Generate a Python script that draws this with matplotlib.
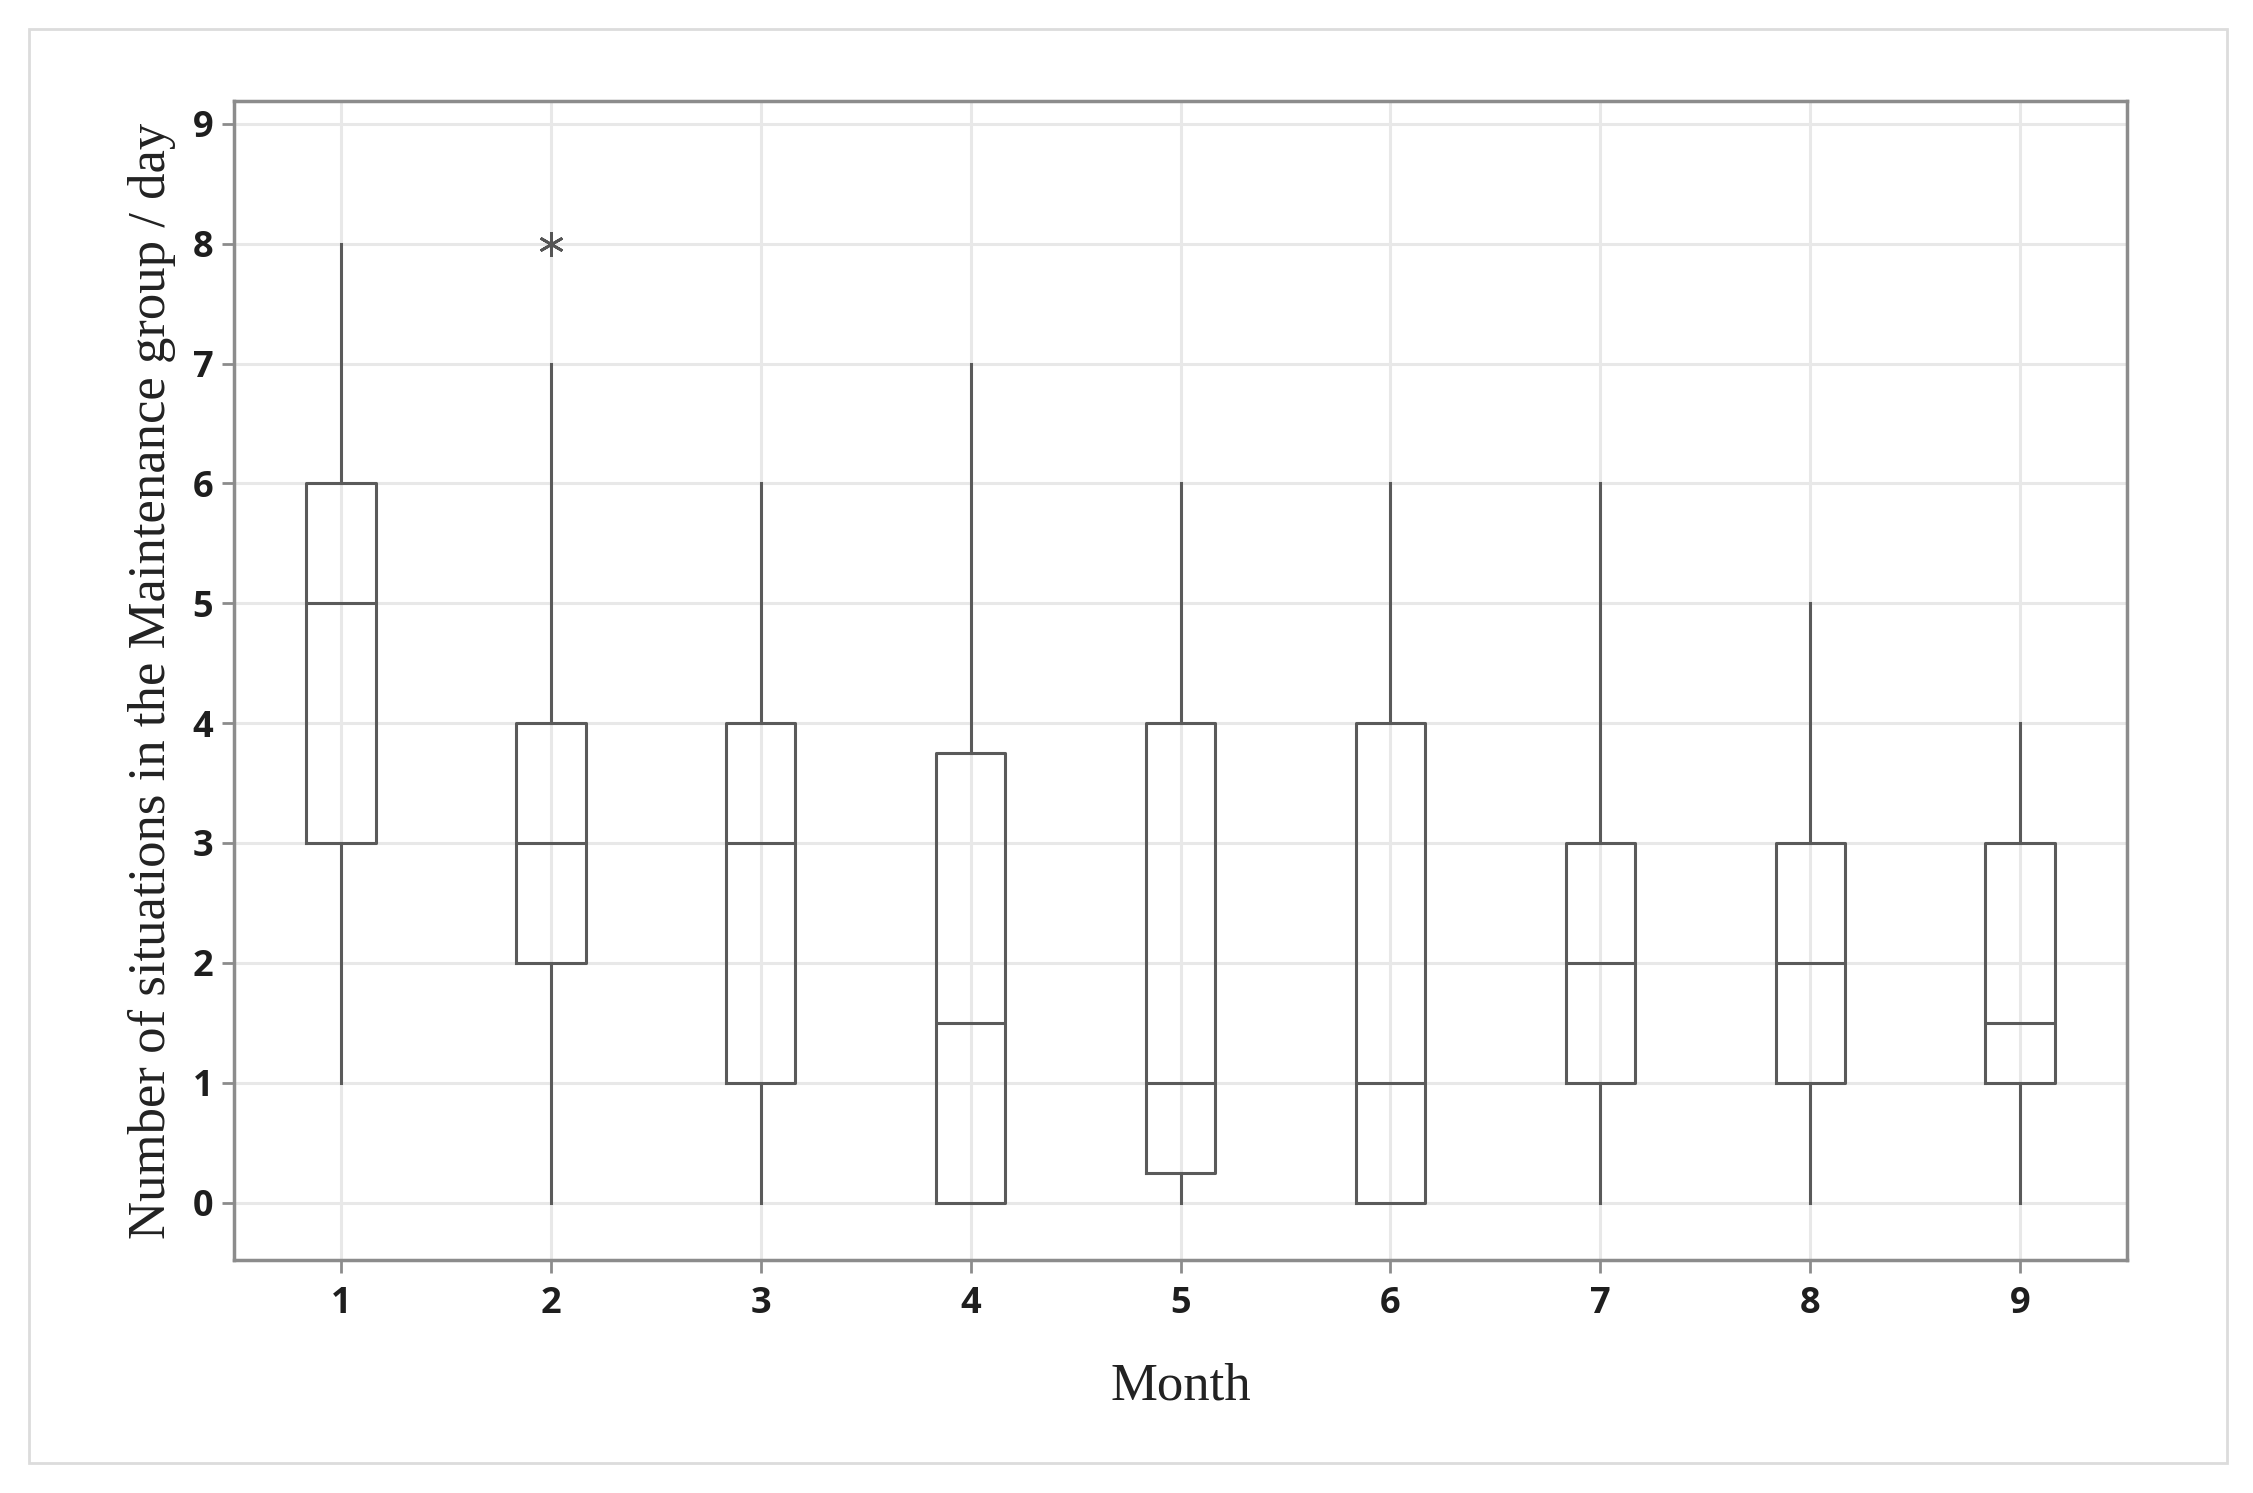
import matplotlib
matplotlib.use("Agg")
import matplotlib.pyplot as plt
from matplotlib.patches import Rectangle

# datos (resumen de cada caja)
meses = [1, 2, 3, 4, 5, 6, 7, 8, 9]
bigote_inf = [1, 0, 0, 0, 0, 0, 0, 0, 0]
q1 = [3, 2, 1, 0, 0.25, 0, 1, 1, 1]
mediana = [5, 3, 3, 1.5, 1, 1, 2, 2, 1.5]
q3 = [6, 4, 4, 3.75, 4, 4, 3, 3, 3]
bigote_sup = [8, 7, 6, 7, 6, 6, 6, 5, 4]
atipicos = [[], [8], [], [], [], [], [], [], []]

stats = []
for i in range(len(meses)):
    stats.append({
        "whislo": bigote_inf[i], "q1": q1[i], "med": mediana[i],
        "q3": q3[i], "whishi": bigote_sup[i], "fliers": atipicos[i],
    })

color_caja = "#5a5a5a"
color_eje = "#8c8c8c"

fig = plt.figure(figsize=(22.53, 14.93), dpi=100)
ax = fig.add_axes([0.1039, 0.156, 0.8402, 0.7763])

ax.bxp(stats, positions=meses, widths=0.33, showcaps=False,
       boxprops=dict(color=color_caja, linewidth=2.2),
       whiskerprops=dict(color=color_caja, linewidth=2.2),
       medianprops=dict(color=color_caja, linewidth=2.2),
       flierprops=dict(marker=(6, 2, 0), markersize=18, markeredgewidth=2,
                       markeredgecolor="#555555", linestyle="none"),
       zorder=3)

ax.set_xlim(0.49, 9.51)
ax.set_ylim(-0.48, 9.19)
ax.set_xticks(meses)
ax.set_xticklabels([str(m) for m in meses])
ax.set_yticks(range(0, 10))

ax.grid(True, color="#e8e8e8", linewidth=2.2, zorder=0)
ax.set_axisbelow(True)

for s in ax.spines.values():
    s.set_color(color_eje)
    s.set_linewidth(2.5)

ax.tick_params(axis="both", direction="out", length=9, width=2, color=color_eje,
               labelsize=26, labelcolor="#1e1e1e")
ax.tick_params(axis="x", pad=10)
ax.tick_params(axis="y", pad=6)
for t in ax.get_xticklabels() + ax.get_yticklabels():
    t.set_fontweight("bold")
    t.set_family("Open Sans")

ax.set_xlabel("Month", family="Liberation Serif", fontsize=38, color="#222222", labelpad=29)
ax.set_ylabel("Number of situations in the Maintenance group / day",
              family="Liberation Serif", fontsize=38, color="#222222", labelpad=12)

# marco exterior
fig.patches.append(Rectangle((29 / 2253, 1 - 1463 / 1493), 2198 / 2253, 1434 / 1493,
                             transform=fig.transFigure, fill=False,
                             edgecolor="#dcdcdc", linewidth=2))

fig.savefig("out.png", dpi=100, facecolor="white")
